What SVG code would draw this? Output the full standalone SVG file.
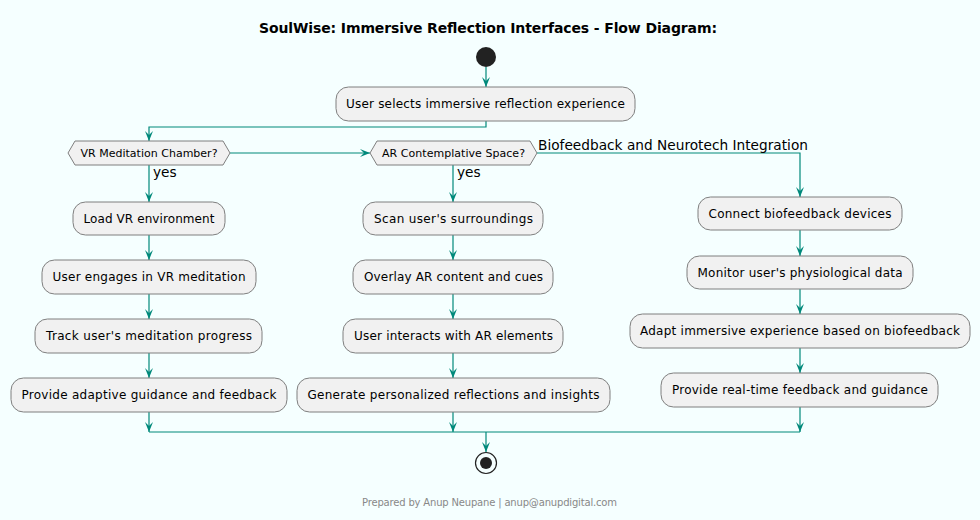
<svg xmlns="http://www.w3.org/2000/svg" width="980" height="520" viewBox="0 0 980 520">
<style>
.bg{fill:#F5FFFF}
.box{fill:#F1F1F1;stroke:#7F7F7F;stroke-width:1}
.t{font-family:"DejaVu Sans",sans-serif;font-size:12px;fill:#000;text-anchor:middle}
.h{font-family:"DejaVu Sans",sans-serif;font-size:11px;fill:#000;text-anchor:middle}
.lbl{font-family:"DejaVu Sans",sans-serif;font-size:13.7px;fill:#000}
.title{font-family:"DejaVu Sans",sans-serif;font-size:14px;font-weight:bold;fill:#000;text-anchor:middle}
.foot{font-family:"DejaVu Sans",sans-serif;font-size:10px;fill:#888;text-anchor:middle}
.c{fill:none;stroke:#00897B;stroke-width:1.2}
.ca{fill:none;stroke:#00897B;stroke-width:1.2;marker-end:url(#ah)}
</style>
<defs>
<marker id="ah" viewBox="0 0 10 10" refX="10" refY="5" markerWidth="10" markerHeight="10" markerUnits="userSpaceOnUse" orient="auto">
<path d="M0,1 L10,5 L0,9 L4,5 Z" fill="#00897B"/>
</marker>
</defs>
<rect class="bg" x="0" y="0" width="980" height="520"/>
<text class="title" x="488" y="33" textLength="458">SoulWise: Immersive Reflection Interfaces - Flow Diagram:</text>

<g id="connectors">
<path class="ca" d="M486,67 V87"/>
<path class="ca" d="M486,121 V127 H149 V141"/>
<path class="ca" d="M230,153 H370"/>
<path class="ca" d="M149,165 V202"/>
<path class="ca" d="M453,165 V202"/>
<path class="ca" d="M537,153 H800 V197"/>
<path class="ca" d="M149,235 V260"/>
<path class="ca" d="M149,294 V319"/>
<path class="ca" d="M149,353 V378"/>
<path class="ca" d="M149,412 V432"/>
<path class="ca" d="M453,235 V260"/>
<path class="ca" d="M453,294 V319"/>
<path class="ca" d="M453,353 V378"/>
<path class="ca" d="M453,412 V432"/>
<path class="ca" d="M800,230 V256"/>
<path class="ca" d="M800,289 V314"/>
<path class="ca" d="M800,348 V373"/>
<path class="ca" d="M800,407 V432"/>
<path class="c" d="M149,432 H800"/>
<path class="ca" d="M486,432 V452"/>
<text class="lbl" x="153" y="177">yes</text>
<text class="lbl" x="457" y="177">yes</text>
<text class="lbl" x="538" y="150" textLength="270">Biofeedback and Neurotech Integration</text>
</g>

<g id="start"><circle cx="486" cy="57" r="10" fill="#222"/></g>

<g id="select"><rect class="box" x="336" y="87" width="299" height="34" rx="12.5"/><text class="t" x="485.5" y="108" textLength="279">User selects immersive reflection experience</text></g>

<g id="vrq"><polygon class="box" points="68,153 75,141 223,141 230,153 223,165 75,165"/><text class="h" x="149" y="157" textLength="137">VR Meditation Chamber?</text></g>
<g id="arq"><polygon class="box" points="370,153 377,141 530,141 537,153 530,165 377,165"/><text class="h" x="453.5" y="157" textLength="143">AR Contemplative Space?</text></g>

<g id="vr1"><rect class="box" x="73" y="202" width="152" height="33" rx="12.5"/><text class="t" x="149" y="223" textLength="131">Load VR environment</text></g>
<g id="vr2"><rect class="box" x="42" y="260" width="214" height="34" rx="12.5"/><text class="t" x="149" y="281" textLength="193">User engages in VR meditation</text></g>
<g id="vr3"><rect class="box" x="35" y="319" width="227" height="34" rx="12.5"/><text class="t" x="149" y="340" textLength="206">Track user's meditation progress</text></g>
<g id="vr4"><rect class="box" x="11" y="378" width="276" height="34" rx="12.5"/><text class="t" x="149" y="399" textLength="255">Provide adaptive guidance and feedback</text></g>

<g id="ar1"><rect class="box" x="363" y="202" width="180" height="33" rx="12.5"/><text class="t" x="453.5" y="223" textLength="159">Scan user's surroundings</text></g>
<g id="ar2"><rect class="box" x="353" y="260" width="200" height="34" rx="12.5"/><text class="t" x="453.5" y="281" textLength="179">Overlay AR content and cues</text></g>
<g id="ar3"><rect class="box" x="343" y="319" width="220" height="34" rx="12.5"/><text class="t" x="453.5" y="340" textLength="199">User interacts with AR elements</text></g>
<g id="ar4"><rect class="box" x="297" y="378" width="313" height="34" rx="12.5"/><text class="t" x="453.5" y="399" textLength="292">Generate personalized reflections and insights</text></g>

<g id="bf1"><rect class="box" x="698" y="197" width="204" height="33" rx="12.5"/><text class="t" x="800" y="218" textLength="183">Connect biofeedback devices</text></g>
<g id="bf2"><rect class="box" x="687" y="256" width="226" height="33" rx="12.5"/><text class="t" x="800" y="277" textLength="205">Monitor user's physiological data</text></g>
<g id="bf3"><rect class="box" x="630" y="314" width="340" height="34" rx="12.5"/><text class="t" x="800" y="335" textLength="320">Adapt immersive experience based on biofeedback</text></g>
<g id="bf4"><rect class="box" x="661" y="373" width="277" height="34" rx="12.5"/><text class="t" x="800" y="394" textLength="256">Provide real-time feedback and guidance</text></g>

<g id="end"><circle cx="486" cy="463" r="10.5" fill="#F5FFFF" stroke="#222" stroke-width="1.2"/><circle cx="486" cy="463" r="6" fill="#222"/></g>

<text class="foot" x="489.5" y="506" textLength="255">Prepared by Anup Neupane | anup@anupdigital.com</text>
</svg>
